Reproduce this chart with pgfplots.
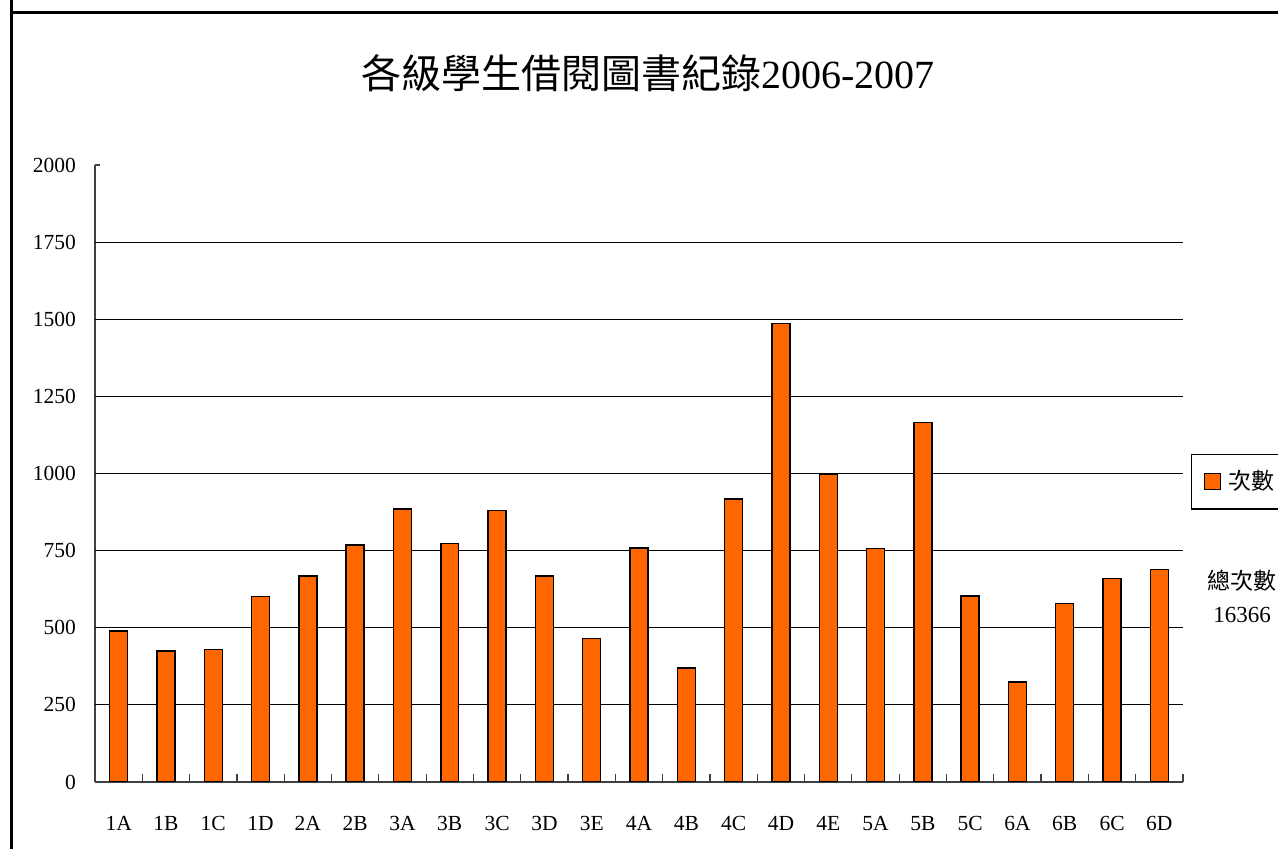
\documentclass[border=0pt]{standalone}
\usepackage{fontspec}
\setmainfont{Liberation Serif}
\newfontfamily\cjk{Noto Sans CJK TC}
\usepackage{pgfplots}
\pgfplotsset{compat=1.18}
\definecolor{barorange}{HTML}{FF6600}
\pgfplotstableread{
x v
0 489
1 424
2 430
3 602
4 668
5 768
6 885
7 774
8 881
9 668
10 465
11 759
12 369
13 917
14 1486
15 998
16 756
17 1165
18 603
19 324
20 578
21 659
22 688
}\borrow
\begin{document}
\begin{tikzpicture}
\useasboundingbox (0,0) rectangle (639pt,424.5pt);
\begin{axis}[
  at={(47.5pt,33.5pt)}, anchor=south west,
  scale only axis, width=544pt, height=308.5pt,
  xmin=-0.5, xmax=22.5, ymin=0, ymax=2000,
  axis x line*=bottom, axis y line*=left,
  axis line style={black!75, line width=0.6pt},
  tick align=inside,
  ytick={0,250,...,2000},
  extra y ticks={250,500,...,1750},
  extra y tick labels={},
  extra y tick style={grid=major, major tick length=0pt},
  major grid style={black, line width=0.5pt},
  xtick={0,...,22},
  xticklabels={1A,1B,1C,1D,2A,2B,3A,3B,3C,3D,3E,4A,4B,4C,4D,4E,5A,5B,5C,6A,6B,6C,6D},
  major x tick style={draw=none},
  minor xtick={-0.5,0.5,...,22.5},
  minor tick length=4pt,
  major tick length=2.5pt,
  tick style={black!75, line width=0.6pt},
  minor tick style={black!75, line width=0.6pt},
  ticklabel style={font=\fontsize{10.75}{13}\selectfont},
  yticklabel style={xshift=-6pt},
  xticklabel style={yshift=-13.5pt},
  /pgf/number format/assume math mode=true,
  /pgf/number format/set thousands separator={},
  legend style={at={(1.00735,0.5316)}, anchor=north west, draw=black, line width=0.6pt,
    font=\cjk\fontsize{11.5}{14}\selectfont, inner xsep=6pt, inner ysep=6pt,
    nodes={inner xsep=4pt}},
  legend image code/.code={\draw[#1, draw=black, line width=0.6pt] (0pt,-4pt) rectangle (8pt,4pt);},
]
\addplot[ybar, bar width=0.38, fill=barorange, draw=black, line width=0.7pt, bar shift=0pt] table[x=x, y=v] {\borrow};
\addlegendentry{次數}
\end{axis}
\draw[line width=1.5pt] (5.5pt,424.5pt) -- (5.5pt,418pt) -- (639pt,418pt);
\draw[line width=1.5pt] (5.5pt,0pt) -- (5.5pt,418.75pt);
\node at (324pt,388pt) {\fontsize{20}{24}\selectfont{\cjk 各級學生借閱圖書紀錄}2006-2007};
\node at (621pt,134pt) {\cjk\fontsize{11.5}{14}\selectfont 總次數};
\node at (621pt,117pt) {\fontsize{11.5}{14}\selectfont 16366};
\end{tikzpicture}
\end{document}
